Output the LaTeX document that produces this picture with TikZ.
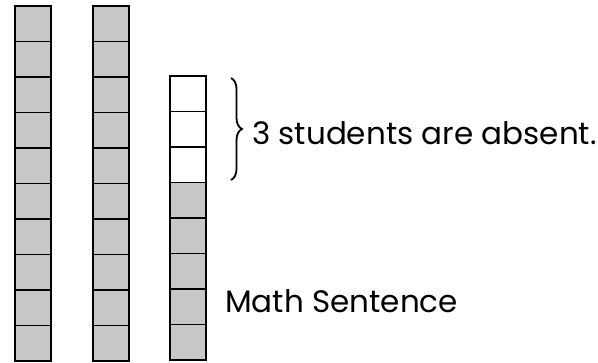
\documentclass[tikz,border=0pt]{standalone}
\usepackage{fontspec}
\setmainfont{Poppins}
\usetikzlibrary{decorations.pathreplacing}
\begin{document}
\begin{tikzpicture}[x=1pt,y=-1pt,
  cell/.style={draw, line width=1.3pt, minimum width=36pt, minimum height=35.5pt, inner sep=0pt, outer sep=0pt, anchor=north west, fill=black!22},
  emptycell/.style={cell, fill=white},
  lbl/.style={font=\fontsize{31}{37}\selectfont, anchor=base west, inner sep=0pt}]
\useasboundingbox[fill=white] (0,0) rectangle (598,363);
\foreach \i in {0,...,9} {
  \node[cell] (a\i) at (15,6+35.5*\i) {};
  \node[cell] (b\i) at (93,6+35.5*\i) {};
}
\foreach \i in {0,1,2} { \node[emptycell] (c\i) at (170,76+35.5*\i) {}; }
\foreach \i in {3,...,7} { \node[cell] (c\i) at (170,76+35.5*\i) {}; }
\coordinate (brtop) at (231,78);
\coordinate (brbot) at (231,180);
\draw[decorate, decoration={brace, amplitude=11pt}, line width=1.8pt] (brtop) -- (brbot);
\node[lbl] (absent) at (252,145) {3 students are absent.};
\node[lbl] (math) at (225,313) {Math Sentence};
\end{tikzpicture}
\end{document}
